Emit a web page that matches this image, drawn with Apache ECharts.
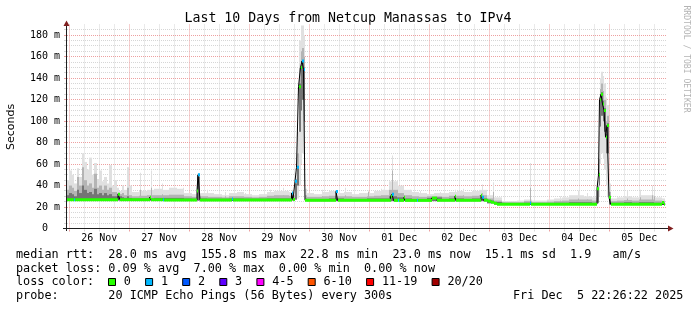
<!DOCTYPE html>
<html><head><meta charset="utf-8">
<script src="https://cdn.jsdelivr.net/npm/echarts@6/dist/echarts.min.js"></script>
<style>html,body{margin:0;padding:0;background:#fff}#c{width:697px;height:310px}</style>
</head><body><div id="c"></div>
<script>
// ---- time axis: hours relative to 26 Nov 00:00 ----
const X_MIN = -0.9, X_MAX = 239.1, X_END = 238.43;

const titleText = 'Last 10 Days from Netcup Manassas to IPv4';
const xTickHours = [12, 36, 60, 84, 108, 132, 156, 180, 204, 228];
const xTickLabels = ['26 Nov','27 Nov','28 Nov','29 Nov','30 Nov','01 Dec','02 Dec','03 Dec','04 Dec','05 Dec'];
const vMajor = [0, 24, 48, 72, 96, 120, 144, 168, 192, 216];
const vMinor = [6,12,18,30,36,42,54,60,66,78,84,90,102,108,114,126,132,138,150,156,162,174,180,186,198,204,210,222,228,234];
const yMajor = [20, 40, 60, 80, 100, 120, 140, 160, 180];
const yMinor = [5,10,15,25,30,35,45,50,55,65,70,75,85,90,95,105,110,115,125,130,135,145,150,155,165,170,175,185];

// ---- median rtt (ms), step segments starting at medT, with lost pings per segment ----
const medT = [-0.9,1.7,2.1,19.5,20.3,32.1,32.7,37.3,37.7,51.1,51.5,52.3,64.9,65.3,88.9,89.5,90.3,90.9,91.7,92.5,93.1,93.7,94.3,106.7,107.3,128.5,129.1,129.7,131.5,131.9,133.9,134.3,138.9,139.3,144.9,147,154.3,154.7,164.7,165.1,165.7,167.5,168.7,169.9,171.1,184.1,184.5,211.1,211.7,212.1,212.7,213.3,213.9,214.5,215.1,215.9,216.5,237.1,237.9];
const medV = [26.8,26.8,26.8,32,26.8,29,26.8,26.8,26.5,35,50,26.5,27.5,26.5,33,27,44,57,132,150,156,148,26.3,34.5,26.3,30,32,26.2,26.2,26.2,29,26.2,26.2,26.2,28.3,26.3,30,26.3,31,29,26.3,25.5,24.5,23.5,22.7,23.7,22.7,37,50,120,125,116,110,85,96,29,22.7,24.3,22.7];
const medLoss = [0,1,0,0,0,0,0,1,0,0, 1,0,1,0,1,0,1,1,0,0, 1,1,0,1,0,0,1,0,1,0, 0,0,1,0,0,0,0,0,0,1, 0,0,0,0,0,1,0,0,0,0, 0,0,0,0,0,0,0,0,0];

// ---- smoke (ping spread, ms) per segment starting at smokeT ----
const smokeT = [-0.9,0,1,2,3,4,5,6,7,8,9,10,11,12,13,14,15,16,17,18,19,20,21,22,23,24,
  25,28,31,34,37,40,43,46,49,51.1,52.3,55,58,61,64,67,70,73,76,79,82,85,88,
  88.9,89.5,90.3,90.9,91.7,92.5,93.1,93.7,94.3,
  95,98,101,104,107,110,113,116,119,122,125,128,131,134,137,140,143,146,149,152,155,158,161,164,167,
  170,173,176,179,182,185,188,191,194,197,200,203,206,209,
  211.1,211.7,212.1,212.7,213.3,213.9,214.5,215.1,215.9,
  216.5,219,222,225,228,231,234,237];
const smokeLo = [26,26,26,26,26,26,26,26,26,26,26,26,26,26,26,26,26,26,26,26,26,26,26,26,26,26,
  26,26,26,26,26,25.8,25.8,25.8,25.8,26,25.8,25.8,25.8,25.8,25.8,25.8,25.8,25.8,25.8,25.8,25.8,25.8,25.8,
  26,25.8,26.5,28,40,60,70,40,25.6,
  25.5,25.5,25.5,25.5,25.5,25.5,25.5,25.5,25.5,25.5,25.5,25.5,25.5,25.5,25.5,25.5,25.5,25.5,25.5,25.5,25.5,25.5,25.5,25.5,23.5,
  22.4,22.4,22.4,22.4,22.4,22.4,22.4,22.4,22.4,22.4,22.4,22.4,22.4,22.4,
  23,30,60,70,65,55,40,30,22.4,
  22.4,22.4,22.4,22.4,22.4,22.4,22.4,22.4];
const smokeInLo = [26,26,26,26,26,26,26,26,26,26,26,26,26,26,26,26,26,26,26,26,26,26,26,26,26,26,
  26,26,26,26,26,25.8,25.8,25.8,25.8,26,25.8,25.8,25.8,25.8,25.8,25.8,25.8,25.8,25.8,25.8,25.8,25.8,25.8,
  26,25.8,27,40,90,110,120,100,25.6,
  25.5,25.5,25.5,25.5,25.5,25.5,25.5,25.5,25.5,25.5,25.5,25.5,25.5,25.5,25.5,25.5,25.5,25.5,25.5,25.5,25.5,25.5,25.5,25.5,23.5,
  22.4,22.4,22.4,22.4,22.4,22.4,22.4,22.4,22.4,22.4,22.4,22.4,22.4,22.4,
  24,40,95,105,100,90,70,70,22.4,
  22.4,22.4,22.4,22.4,22.4,22.4,22.4,22.4];
const smokeCore = [31,33,32,30,36,33,40,36,33,34,32,37,32,33,31,33,31,32,30,30,30,30,29,28.5,30,28.5,
  28,28,28,28.5,28.5,28.5,28.5,28,27.8,48,28,27.8,27.8,27.8,28,28,27.8,27.8,27.8,28,28,28,28,
  30,28,42,58,135,152,157,150,28,
  27.5,27.5,27.5,28,28,27.5,27.5,27.5,28,28,28,30,29,28,27.5,27.5,28.5,29,27.5,28,28,27.5,28,28,26,
  24.5,23.5,23.5,23.5,24,23.5,23.5,23.5,24,24,24.5,24.5,24.5,24,
  37,52,122,127,119,112,88,98,30,
  24,24,24.5,24,24.5,24.5,24,24];
const smokeMid = [36,40,38,35,48,40,57,45,40,42,38,51,38,40,36,40,36,38,34,34,33,32,33,31,38,31,
  30,30.5,31,31,31,31.5,31.5,30,29.5,50,30,29.5,29.5,29,30,30,29.5,29,29.5,30.5,31,31,30.5,
  33,31,46,70,150,165,168,160,31,
  29.5,29.5,30,30.5,30,30,29.5,29.5,30,30.5,31,36,33,31,30,29.5,30,30,29.5,30.5,30.5,30,30.5,31,28,
  26,24.5,24.5,24.5,25.5,24.5,24.5,25,25.5,26,27,27,27,26,
  40,65,130,135,128,120,100,105,34,
  25.5,26,26.5,26,27,27,26,25.5];
const smokeHi = [45,54,50,42,56,48,70,62,55,66,50,61,46,54,44,48,42,59,40,45,38,35,40,36,57,40,
  34,35,36,37,36,38,37,33,32,51,33,33,32,31,33,34,32,31,32,34,35,35,34,
  36,34,52,90,175,189,189,180,37,
  33,32,34,35,33,34,32,33,33,35,36,44,40,36,34,33,32,33,33,34,35,34,35,36,31,
  29,25.5,25.5,26,27,26,26,27,28,29,31,31,30,29,
  45,90,140,146,142,135,122,115,42,
  28,29,30,29,31,31,29,28];

// ---- single-sample smoke spikes ----
const spikeT = [28.3,32.9,37.3,41.5,45.5,55.1,62.3,70.3,80.3,85.5,101.1,110.3,119.5,124.7,125.5,129.3,131.1,136.3,140.3,148.3,154.3,157.5,165.1,169.5,184.3,196.3,203.5,207.1,223.1,228.3,233.1,233.9];
const spikeHi = [52,54,42,36,38,36,34,33,36,38,36,38,35.5,37,36,68,45,36,35,34,36,37,41,43,61,30,35.5,33,35.5,36,40,38];
const spikeMid = [36,38,32,30,31,30,30,29,30,31,30,31,34,31,30,54,36,30,29,29,30,31,33,34,38,26,28,27,28,29,31,30];

// ---- legend ----
const lossLabels = ['0','1','2','3','4-5','6-10','11-19','20/20'];
const lossColors = ['#26ff00','#00b8ff','#0059ff','#5e00ff','#ff00ff','#ff5500','#ff0000','#a10000'];
const legendRtt = 'median rtt:  28.0 ms avg  155.8 ms max  22.8 ms min  23.0 ms now  15.1 ms sd  1.9   am/s';
const legendLoss = 'packet loss: 0.09 % avg  7.00 % max  0.00 % min  0.00 % now';
const legendProbe = 'probe:       20 ICMP Echo Pings (56 Bytes) every 300s';
const legendDate = 'Fri Dec  5 22:26:22 2025';

function lossBucket(n){ if(n<=3) return n; if(n<=5) return 4; if(n<=10) return 5; if(n<=19) return 6; return 7; }

const MONO = '"DejaVu Sans Mono", "Liberation Mono", monospace';
const GRID = {left:67, top:24.5, width:600, height:204};
const C_MINOR = '#d6d6d6', C_MAJOR = '#eda0a0', C_AXIS = '#1f1f1f', C_ARROW = '#801f1f';
const C_OUT = '#e0e0e0', C_MID = '#b4b4b4', C_CORE = '#747474';

function segEnd(arr, i, last){ return i + 1 < arr.length ? arr[i + 1] : last; }
const outerData = smokeT.map((t,i)=>[t, segEnd(smokeT,i,X_END), smokeLo[i], smokeHi[i]]);
const midData = smokeT.map((t,i)=>[t, segEnd(smokeT,i,X_END), smokeInLo[i], smokeMid[i]]);
const coreData = smokeT.map((t,i)=>[t, segEnd(smokeT,i,X_END), smokeInLo[i], smokeCore[i]]);
function loAt(t){ let k = 0; for (let i=0;i<smokeT.length;i++){ if (smokeT[i] <= t) k = i; } return smokeLo[k]; }
const spikeData = spikeT.map((t,i)=>[t, loAt(t), spikeMid[i], spikeHi[i]]);
const medBlocks = medT.map((t,i)=>[t, segEnd(medT,i,X_END), medV[i], lossBucket(medLoss[i])]);
const medPts = medT.map((t,i)=>[t, medV[i]]).concat([[X_END, medV[medV.length-1]]]);

function hLine(color){
  return function(params, api){
    const v = api.value(1);
    const p0 = api.coord([X_MIN, v]), p1 = api.coord([X_MAX, v]);
    const y = Math.round(p0[1] - 0.5) + 0.5;
    return {type:'group', children:[
      {type:'line', shape:{x1:p0[0], y1:y, x2:p1[0], y2:y}, style:{stroke:color, lineWidth:1, lineDash:[1,1]}},
      {type:'line', shape:{x1:p0[0]-3, y1:y, x2:p0[0]-1, y2:y}, style:{stroke:color, lineWidth:1}}
    ]};
  };
}
function vLine(color){
  return function(params, api){
    const h = api.value(0);
    const p0 = api.coord([h, 0]), p1 = api.coord([h, 190]);
    const x = Math.round(p0[0] - 0.5) + 0.5;
    return {type:'group', children:[
      {type:'line', shape:{x1:x, y1:p1[1], x2:x, y2:p0[1]}, style:{stroke:color, lineWidth:1, lineDash:[1,1]}},
      {type:'line', shape:{x1:x, y1:p0[1]+1, x2:x, y2:p0[1]+3}, style:{stroke:color, lineWidth:1}}
    ]};
  };
}
function band(color){
  return function(params, api){
    const a = api.coord([api.value(0), api.value(3)]);
    const b = api.coord([api.value(1), api.value(2)]);
    const x0 = Math.round(a[0]), x1 = Math.round(b[0]);
    const hgt = b[1] - a[1];
    if (hgt <= 0) return null;
    return {type:'rect', shape:{x:x0, y:a[1], width:Math.max(1, x1-x0), height:hgt}, style:{fill:color}};
  };
}
function spikeRender(params, api){
  const t = api.value(0);
  const pb = api.coord([t, api.value(1)]), pm = api.coord([t, api.value(2)]), ph = api.coord([t, api.value(3)]);
  const x = Math.floor(pb[0]);
  return {type:'group', children:[
    {type:'rect', shape:{x:x, y:ph[1], width:1, height:pb[1]-ph[1]}, style:{fill:C_OUT}},
    {type:'rect', shape:{x:x, y:pm[1], width:1, height:Math.max(0,pb[1]-pm[1])}, style:{fill:C_MID}}
  ]};
}
function medRender(params, api){
  const a = api.coord([api.value(0), api.value(2)]);
  const b = api.coord([api.value(1), api.value(2)]);
  const x0 = Math.round(a[0]), x1 = Math.round(b[0]);
  return {type:'rect', shape:{x:x0, y:a[1]-1.5, width:Math.max(1, x1-x0), height:3}, style:{fill:lossColors[api.value(3)]}};
}
function xLabelRender(params, api){
  const p = api.coord([api.value(0), 0]);
  return {type:'text', x:p[0], y:p[1]+9.5, style:{text:xTickLabels[params.dataIndex], fill:'#000', font:'10px ' + MONO, align:'center', verticalAlign:'middle'}};
}

const graphics = [];
function txt(x, y, text, font, align){
  return {type:'text', x:x, y:y, silent:true, style:{text:text, font:font, fill:'#000', align:align || 'left', verticalAlign:'middle'}};
}
graphics.push(txt(348, 19, titleText, '13.25px ' + MONO, 'center'));
graphics.push({type:'text', x:11, y:127, rotation:Math.PI/2, silent:true, style:{text:'Seconds', font:'11px "DejaVu Sans", sans-serif', fill:'#000', align:'center', verticalAlign:'middle'}});
graphics.push({type:'text', x:686.5, y:59, rotation:-Math.PI/2, silent:true, style:{text:'RRDTOOL / TOBI OETIKER', font:'8.1px ' + MONO, fill:'#b4b4b4', align:'center', verticalAlign:'middle'}});
// axes and arrows
graphics.push({type:'line', silent:true, shape:{x1:66.5, y1:231, x2:66.5, y2:25}, style:{stroke:C_AXIS, lineWidth:1}});
graphics.push({type:'line', silent:true, shape:{x1:63, y1:228.5, x2:669, y2:228.5}, style:{stroke:C_AXIS, lineWidth:1}});
graphics.push({type:'polygon', silent:true, shape:{points:[[63.5,26],[69.5,26],[66.5,20.5]]}, style:{fill:C_ARROW}});
graphics.push({type:'polygon', silent:true, shape:{points:[[668,225.5],[668,231.5],[673.5,228.5]]}, style:{fill:C_ARROW}});
// legend lines
const CW = 7.1, LF = '11.8px ' + MONO;
graphics.push(txt(16, 255, legendRtt, LF));
graphics.push(txt(16, 268.5, legendLoss, LF));
graphics.push(txt(16, 282, 'loss color:', LF));
graphics.push(txt(16, 296, legendProbe, LF));
graphics.push(txt(16 + 70*CW, 296, legendDate, LF));
let sx = 108;
lossLabels.forEach((lab, i) => {
  graphics.push({type:'rect', silent:true, shape:{x:sx+0.5, y:278.5, width:7, height:7}, style:{fill:lossColors[i], stroke:'#000', lineWidth:1}});
  graphics.push(txt(sx + 15.8, 282, lab, LF));
  sx = sx + 15.8 + lab.length*CW + 14.2;
});

const chart = echarts.init(document.getElementById('c'), null, {renderer:'canvas'});
chart.setOption({
  animation:false,
  backgroundColor:'#ffffff',
  grid:GRID,
  xAxis:{type:'value', min:X_MIN, max:X_MAX, axisLine:{show:false}, axisTick:{show:false}, axisLabel:{show:false}, splitLine:{show:false}},
  yAxis:{type:'value', min:0, max:190, interval:20, axisLine:{show:false}, axisTick:{show:false}, splitLine:{show:false},
    axisLabel:{margin:7, color:'#000', fontFamily:'DejaVu Sans Mono', fontSize:10,
      formatter:function(v){ if (v === 0) return '0  '; if (v > 185) return ''; return v + ' m'; }}},
  series:[
    {type:'custom', z:1, silent:true, renderItem:hLine(C_MINOR), data:yMinor.map(v=>[X_MIN, v])},
    {type:'custom', z:1, silent:true, renderItem:vLine(C_MINOR), data:vMinor.map(h=>[h, 0])},
    {type:'custom', z:1, silent:true, renderItem:hLine(C_MAJOR), data:yMajor.map(v=>[X_MIN, v])},
    {type:'custom', z:1, silent:true, renderItem:vLine(C_MAJOR), data:vMajor.map(h=>[h, 0])},
    {type:'custom', z:2, silent:true, renderItem:band(C_OUT), data:outerData},
    {type:'custom', z:3, silent:true, renderItem:spikeRender, data:spikeData},
    {type:'custom', z:4, silent:true, renderItem:band(C_MID), data:midData},
    {type:'custom', z:5, silent:true, renderItem:band(C_CORE), data:coreData},
    {type:'line', z:6, silent:true, step:'end', symbol:'none', data:medPts, lineStyle:{color:'#000', width:1}},
    {type:'custom', z:7, silent:true, renderItem:medRender, data:medBlocks},
    {type:'custom', z:8, silent:true, renderItem:xLabelRender, data:xTickHours.map(h=>[h, 0])}
  ],
  graphic:graphics
});
</script>
</body></html>
